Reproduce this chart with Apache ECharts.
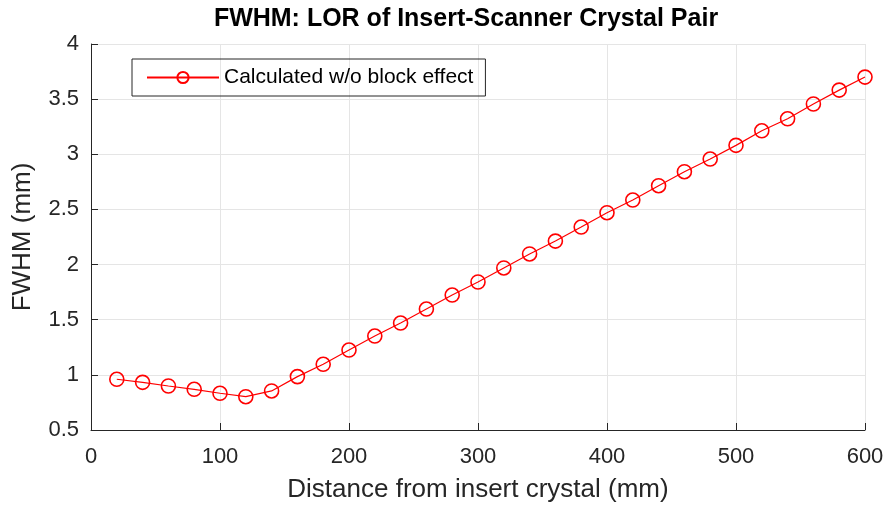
<!DOCTYPE html>
<html>
<head>
<meta charset="utf-8">
<script src="https://cdn.jsdelivr.net/npm/echarts@6/dist/echarts.min.js"></script>
<style>
  html, body { margin: 0; padding: 0; background: #fff; }
  #chart { width: 888px; height: 512px; }
</style>
</head>
<body>
<div id="chart"></div>
<script>
// distance from insert crystal (mm)
var distances = [20, 40, 60, 80, 100, 120, 140, 160, 180, 200,
  220, 240, 260, 280, 300, 320, 340, 360, 380, 400,
  420, 440, 460, 480, 500, 520, 540, 560, 580, 600];
// FWHM values (mm)
var fwhm = [0.96, 0.932, 0.899, 0.869, 0.833, 0.802, 0.854, 0.984, 1.096, 1.225,
  1.352, 1.47, 1.597, 1.724, 1.842, 1.969, 2.096, 2.213, 2.34, 2.47,
  2.585, 2.715, 2.842, 2.957, 3.081, 3.213, 3.322, 3.456, 3.582, 3.70];
var seriesName = 'Calculated w/o block effect';

var font = 'Liberation Sans, Arial, Helvetica, sans-serif';
var axisColor = '#262626';

var chart = echarts.init(document.getElementById('chart'));

var pairs = [];
for (var i = 0; i < distances.length; i++) {
  pairs.push([distances[i], fwhm[i]]);
}

chart.setOption({
  animation: false,
  title: {
    text: 'FWHM: LOR of Insert-Scanner Crystal Pair',
    left: 461,
    textAlign: 'center',
    top: 2,
    textStyle: { fontFamily: font, fontSize: 25, fontWeight: 'bold', color: '#000' }
  },
  grid: { left: 91, right: 23, top: 44, bottom: 82 },
  legend: {
    left: 132,
    top: 59,
    padding: [8, 12, 8, 14],
    borderColor: '#262626',
    borderWidth: 1,
    itemWidth: 72,
    itemHeight: 14,
    itemGap: 6,
    textStyle: { fontFamily: font, fontSize: 21, color: '#000' },
    data: [seriesName]
  },
  xAxis: {
    type: 'value',
    min: 0, max: 600, interval: 100,
    name: 'Distance from insert crystal (mm)',
    nameLocation: 'middle',
    nameGap: 47,
    nameTextStyle: { fontFamily: font, fontSize: 26, color: axisColor },
    axisLine: { show: true, onZero: false, lineStyle: { color: axisColor } },
    axisTick: { show: true, inside: true, length: 7, lineStyle: { color: axisColor } },
    axisLabel: { fontFamily: font, fontSize: 22, color: axisColor, margin: 16 },
    splitLine: { show: true, lineStyle: { color: '#e5e5e5' } }
  },
  yAxis: {
    type: 'value',
    min: 0.5, max: 4, interval: 0.5,
    name: 'FWHM (mm)',
    nameLocation: 'middle',
    nameGap: 55,
    nameTextStyle: { fontFamily: font, fontSize: 26, color: axisColor },
    axisLine: { show: true, onZero: false, lineStyle: { color: axisColor } },
    axisTick: { show: true, inside: true, length: 7, lineStyle: { color: axisColor } },
    axisLabel: { fontFamily: font, fontSize: 22, color: axisColor, margin: 12 },
    splitLine: { show: true, lineStyle: { color: '#e5e5e5' } }
  },
  series: [{
    name: seriesName,
    type: 'line',
    data: pairs,
    symbol: 'circle',
    symbolSize: 14,
    showAllSymbol: true,
    lineStyle: { color: '#ff0000', width: 1.2 },
    itemStyle: { color: 'rgba(0,0,0,0)', borderColor: '#ff0000', borderWidth: 1.6 }
  }]
});
</script>
</body>
</html>
